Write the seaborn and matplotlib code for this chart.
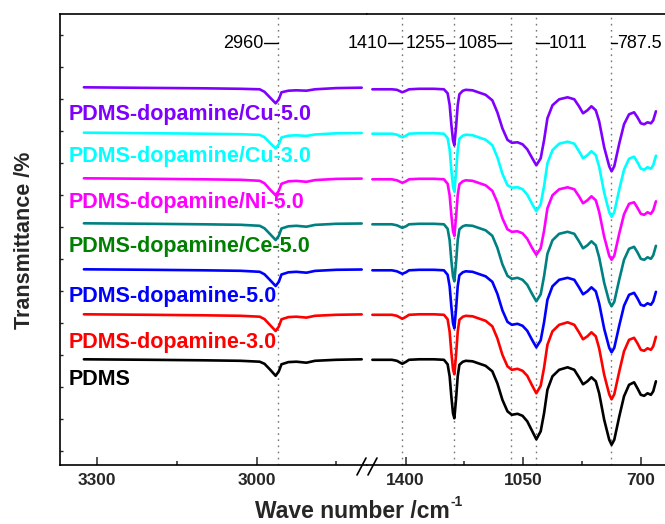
import numpy as np
import pandas as pd
import matplotlib
matplotlib.use("Agg")
import matplotlib.pyplot as plt
import seaborn as sns
from matplotlib.lines import Line2D

# ---------------- data ----------------
samples = ["PDMS-dopamine/Cu-5.0", "PDMS-dopamine/Cu-3.0", "PDMS-dopamine/Ni-5.0",
           "PDMS-dopamine/Ce-5.0", "PDMS-dopamine-5.0", "PDMS-dopamine-3.0", "PDMS"]
line_colors = ["#8000ff", "#00ffff", "#ff00ff", "#008080", "#0000ff", "#ff0000", "#000000"]
label_colors = ["#8000ff", "#00ffff", "#ff00ff", "#008000", "#0000ff", "#ff0000", "#000000"]
# stacking offsets (baseline level of each trace, arbitrary units)
offsets = [377.7, 332.3, 286.7, 241.7, 195.7, 150.7, 105.7]

wn_left = [3325, 3200, 3100, 3030, 2994, 2985, 2975, 2964, 2958, 2953, 2940, 2925, 2906, 2890, 2850, 2802]
wn_right = [1499, 1441, 1426, 1410, 1399, 1390, 1360, 1316, 1286,
            1275, 1269, 1264, 1259, 1255, 1250, 1245, 1240, 1230,
            1221, 1201, 1162, 1142, 1127, 1112, 1097, 1084,
            1067, 1052, 1038, 1023, 1011, 998, 988, 978, 963,
            943, 918, 898, 884, 872, 859, 847, 834, 824,
            809, 794, 787, 779, 764, 750, 735, 720, 710,
            700, 690, 680, 670, 663, 655]

# band depth below each trace's baseline
left_cu50 = [0, 0.6, 1, 1.5, 2, 4.5, 10, 16, 12, 5, 3.4, 3, 3.4, 2, 0.8, 0.4]
left_cu30 = [0, 0.5, 1, 1.5, 2.2, 4.5, 10, 15.7, 11.5, 4.8, 3, 2.6, 3.2, 1.8, 0.6, 0.3]
left_ni50 = [0, 0.5, 1, 1.5, 2.5, 5, 11, 17, 12.5, 5.5, 3, 2.6, 3.5, 1.8, 0.6, 0.3]
left_ce50 = [0, 0.5, 1, 1.5, 2.5, 5, 10.5, 16.7, 12.5, 5.2, 3, 2.5, 3.4, 1.6, 0.5, 0.2]
left_pd50 = [0, 0.5, 1, 1.5, 2.5, 5, 10.5, 16.7, 12.5, 5.2, 3, 2.5, 3.4, 1.6, 0.5, 0.2]
left_pd30 = [0, 0.5, 1, 1.5, 2.4, 4.8, 10.5, 16.7, 12.3, 5, 2.8, 2.4, 3.3, 1.5, 0.5, 0.1]
left_pdms = [0, 0.5, 1, 1.5, 2.4, 4.5, 10, 16.5, 12, 5, 2.8, 2.4, 3.4, 1.5, 0.5, 0]

right_cu50 = [2, 2, 2.5, 5, 3.5, 2, 1.5, 1.5, 2,
              6, 17.5, 37, 53, 58, 40, 18, 7, 3.5,
              2.5, 3, 7.5, 13, 25, 41, 52.5, 55.5,
              55, 57, 62, 71, 78, 71, 53, 31, 18,
              12, 10, 12, 19, 26, 23, 19, 23, 34,
              60, 79, 84, 79, 56, 37, 27, 25, 30,
              36, 37, 35, 36, 33, 24]
right_cu30 = [1, 1, 2, 4.5, 3, 1, 0.5, 0.5, 1,
              5.5, 17, 37, 54, 59, 40, 17.5, 6, 3,
              2, 2.5, 7, 12.5, 24.5, 41, 52.5, 55,
              54.5, 56.5, 62, 71.5, 78.5, 71.5, 53.5, 30.5, 17.5,
              11, 9, 11, 18.5, 25.5, 22.5, 18.5, 22.5, 34,
              60, 79.5, 84, 79.5, 56.5, 37, 26, 24, 29.5,
              36, 37, 34.5, 36, 32.5, 23]
right_ni50 = [1, 1, 2, 4.5, 3, 1, 0.5, 0.5, 1,
              5.5, 17, 36.5, 53, 57.5, 39, 17, 6, 3,
              2, 2.5, 7, 12.5, 24, 40, 51, 53.5,
              53, 55, 60.5, 70, 76.5, 70, 52.5, 30, 17,
              11, 9, 11, 18, 25, 22, 18, 22, 33.5,
              58.5, 77.5, 81.5, 77.5, 55, 36, 25.5, 24, 29.5,
              35.5, 36.5, 34, 35.5, 32, 23]
right_ce50 = [1, 1, 2, 4.5, 3, 1, 0.5, 0.5, 1,
              5.5, 17, 37, 53, 58, 39.5, 17, 6, 3,
              2, 2.5, 7, 12.5, 24.5, 41, 52.5, 55.5,
              54.5, 56.5, 61.5, 71, 78, 71, 53, 30.5, 17,
              10.5, 8.5, 10.5, 18, 25, 22, 18, 22, 34,
              59.5, 78.5, 83, 78.5, 56, 36.5, 25.5, 23.5, 29,
              35.5, 36.5, 34, 35.5, 32, 22.5]
right_pd50 = [1, 1, 2, 4.5, 3, 1, 0.5, 0.5, 1,
              5.5, 17, 37, 54, 59, 40, 17, 6, 3,
              2, 2.5, 7, 12.5, 24.5, 41, 52.5, 55.5,
              54.5, 56.5, 61.5, 71, 78, 71, 53, 30.5, 17,
              10.5, 8.5, 10.5, 18, 25, 22, 18, 22, 34,
              59.5, 78.5, 83, 78.5, 56, 36.5, 25.5, 23.5, 29,
              35.5, 36.5, 34, 35.5, 32, 22.5]
right_pd30 = [0.5, 0.5, 1.5, 4.5, 2.5, 0.5, 0, 0, 0.5,
              5, 17.5, 38, 55, 60, 41, 17.5, 5.5, 2.5,
              1.5, 2, 6.5, 12, 24, 40.5, 52, 55.5,
              54.5, 56.5, 61.5, 71.5, 79, 71.5, 53.5, 30.5, 17,
              10.5, 8, 10.5, 18, 25, 22, 18, 22, 34,
              60.5, 80, 85, 80, 57, 37, 25.5, 23.5, 29,
              35.5, 36.5, 34, 35.5, 32, 22.5]
right_pdms = [0.5, 0.5, 1.5, 4.5, 2.5, 0.5, 0, 0, 0.5,
              5, 17, 37, 54, 59, 40, 17, 5.5, 2.5,
              1.5, 2, 6.5, 12, 24, 40.5, 52, 55.5,
              54.5, 56.5, 62, 72, 80, 72, 54, 30.5, 17,
              10.5, 8, 10.5, 18, 25, 22, 18, 22, 34,
              60.5, 80.5, 85.5, 80.5, 57, 37, 25.5, 23, 29,
              35.5, 36.5, 34, 35.5, 32, 22]

left_depths = [left_cu50, left_cu30, left_ni50, left_ce50, left_pd50, left_pd30, left_pdms]
right_depths = [right_cu50, right_cu30, right_ni50, right_ce50, right_pd50, right_pd30, right_pdms]

peak_positions = [2960, 1410, 1255, 1085, 1011, 787.5]
peak_labels = ["2960", "1410", "1255", "1085", "1011", "787.5"]

# ---------------- build long tables ----------------
rows_l, rows_r = [], []
for name, off, dl, dr in zip(samples, offsets, left_depths, right_depths):
    for w, d in zip(wn_left, dl):
        rows_l.append({"sample": name, "wavenumber": w, "T": off - d})
    for w, d in zip(wn_right, dr):
        rows_r.append({"sample": name, "wavenumber": w, "T": off - d})
df_l = pd.DataFrame(rows_l)
df_r = pd.DataFrame(rows_r)
palette = dict(zip(samples, line_colors))

# ---------------- style ----------------
sns.set_theme(style="white")
plt.rcParams["font.family"] = ["Liberation Sans", "DejaVu Sans"]
plt.rcParams["axes.linewidth"] = 1.2
plt.rcParams["lines.solid_joinstyle"] = "round"
plt.rcParams["lines.solid_capstyle"] = "round"

W, H = 665, 524
fig = plt.figure(figsize=(W / 100, H / 100), dpi=100)
x0, xb, x1 = 60, 367, 665
ytop, ybot = 14, 465
ax1 = fig.add_axes([x0 / W, (H - ybot) / H, (xb - x0) / W, (ybot - ytop) / H])
ax2 = fig.add_axes([xb / W, (H - ybot) / H, (x1 - xb) / W, (ybot - ytop) / H])

for ax, df in ((ax1, df_l), (ax2, df_r)):
    sns.lineplot(data=df, x="wavenumber", y="T", hue="sample", hue_order=samples,
                 palette=palette, ax=ax, legend=False, estimator=None,
                 sort=False, linewidth=1.9)
    ax.set_ylim(0, ybot - ytop)
    ax.set_xlabel("")
    ax.set_ylabel("")
    for s in ax.spines.values():
        s.set_color("black")
        s.set_linewidth(1.2)

ax1.set_xlim(3370, 2792)
ax2.set_xlim(1515, 628)

ax1.spines["right"].set_visible(False)
ax2.spines["left"].set_visible(False)
ax2.spines["right"].set_visible(False)

ax1.set_xticks([3300, 3000])
ax1.set_xticks([3150, 2850], minor=True)
ax2.set_xticks([1400, 1050, 700])
ax2.set_xticks([1225, 875], minor=True)
for ax in (ax1, ax2):
    ax.tick_params(axis="x", which="major", direction="in", length=6, width=1.1,
                   pad=6, labelsize=12.5, bottom=True, top=False)
    ax.tick_params(axis="x", which="minor", direction="in", length=3, width=1.1,
                   bottom=True, top=False)
    for lab in ax.get_xticklabels():
        lab.set_fontweight("bold")
ax1.set_yticks(np.arange(13.7, 451, 32))
ax1.set_yticklabels([])
ax1.tick_params(axis="y", which="major", direction="in", length=2.5, width=1,
                left=True, right=False)
ax2.set_yticks([])

# dotted guide lines
for w in peak_positions:
    ax = ax1 if w > 2000 else ax2
    ax.axvline(w, color="#777777", lw=1.0, ls=(0, (1.2, 3.2)), zorder=0)

# peak annotations: (text anchor side, dash length in data units)
ann_specs = [("left", 26), ("left", 42), ("left", 26), ("left", 42), ("right", 37), ("right", 18)]
y_dash = ybot - 43
for w, lab, (side, dl) in zip(peak_positions, peak_labels, ann_specs):
    ax = ax1 if w > 2000 else ax2
    if side == "left":
        ax.plot([w + dl, w], [y_dash, y_dash], color="black", lw=1.0, clip_on=False)
        ax.text(w + dl, y_dash, lab, ha="right", va="center", fontsize=13,
                color="black", clip_on=False)
    else:
        ax.plot([w, w - dl], [y_dash, y_dash], color="black", lw=1.0, clip_on=False)
        ax.text(w - dl, y_dash, lab, ha="left", va="center", fontsize=13,
                color="black", clip_on=False)

# sample labels (baseline pixel rows in reference)
label_base_px = [120, 161.7, 208.3, 251.7, 301.7, 348.3, 385]
for name, col, py in zip(samples, label_colors, label_base_px):
    ax1.text(3353, ybot - py, name, color=col, fontsize=15.5, fontweight="bold",
             ha="left", va="baseline", clip_on=False)

# axis break marks
for cx in (361.5, 372.5):
    fig.add_artist(Line2D([(cx - 4.5) / W, (cx + 4.5) / W],
                          [(H - 475) / H, (H - 458) / H],
                          color="black", lw=1.2, transform=fig.transFigure))

# x label with a small superscript "-1"
xl = fig.text(352 / W, (H - 518) / H, "Wave number /cm", ha="center",
              va="baseline", fontsize=16.5, fontweight="bold")
fig.canvas.draw()
bb = xl.get_window_extent(renderer=fig.canvas.get_renderer())
fig.text((bb.x1 + 1) / W, (H - 518 + 12) / H, "-1", ha="left", va="baseline",
         fontsize=10, fontweight="bold")
fig.text(25 / W, (H - 240) / H, "Transmittance /%", rotation=90, ha="center",
         va="center", fontsize=15.5, fontweight="bold")

fig.savefig("out.png", dpi=100)
